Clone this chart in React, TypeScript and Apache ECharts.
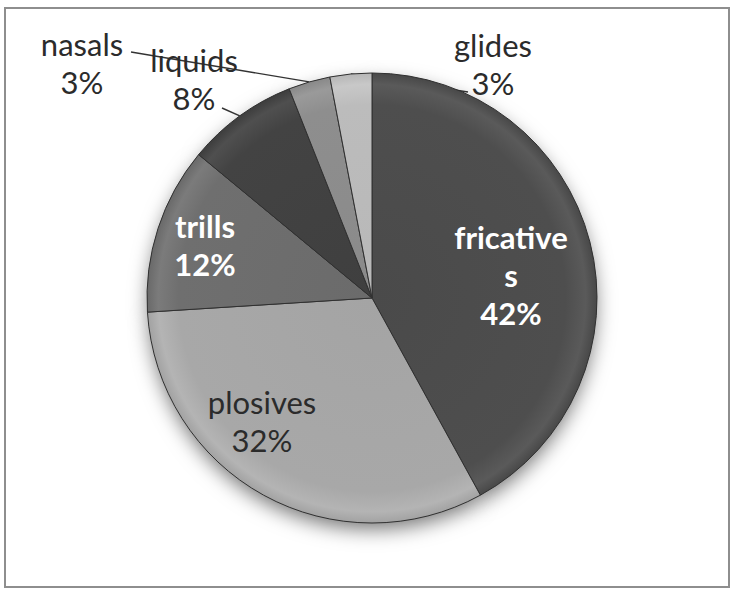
import React, { useEffect, useRef } from "react";
import * as echarts from "echarts";

// Share of consonant classes (percent)
const categories = ["fricatives", "plosives", "trills", "liquids", "nasals", "glides"];
const shares = [42, 32, 12, 8, 3, 3];
const sliceColors = ["#4e4e4e", "#a8a8a8", "#6f6f6f", "#434343", "#8e8e8e", "#bcbcbc"];

// Label appearance per class
const insideWhite = ["fricatives", "trills"];
const insideDark = ["plosives"];
const wrappedNames: Record<string, string> = { fricatives: "fricative\ns" };

// Where each label sits on the page (centre of the text block)
const labelSpots: Record<string, [number, number]> = {
  fricatives: [511, 275],
  plosives: [262, 421],
  trills: [205, 245],
  liquids: [194, 79],
  nasals: [82, 63],
  glides: [493, 64],
};
// Where the leader line of an outside label meets its text
const leaderEnds: Record<string, [number, number]> = {
  liquids: [222, 108],
  nasals: [131, 52],
  glides: [468, 92],
};

const CENTER: [number, number] = [372, 298];
const RADIUS = 225;
const FONT = "Lato, 'Open Sans', sans-serif";

function shade(hex: string, amount: number): string {
  const n = parseInt(hex.slice(1), 16);
  const ch = (v: number) => Math.max(0, Math.min(255, Math.round(v + amount)));
  const r = ch((n >> 16) & 255);
  const g = ch((n >> 8) & 255);
  const b = ch(n & 255);
  return `rgb(${r},${g},${b})`;
}

// Slight bevel: a lighter band just inside the rim
function bevel(color: string) {
  return {
    type: "radial",
    x: CENTER[0],
    y: CENTER[1],
    r: RADIUS,
    global: true,
    colorStops: [
      { offset: 0, color: shade(color, -4) },
      { offset: 0.86, color },
      { offset: 0.95, color: shade(color, 12) },
      { offset: 1, color: shade(color, -6) },
    ],
  };
}

export default function App() {
  const ref = useRef<HTMLDivElement>(null);

  useEffect(() => {
    if (!ref.current) return;
    const chart = echarts.init(ref.current, undefined, { renderer: "svg" });

    const data = categories.map((name, i) => {
      const white = insideWhite.includes(name);
      const dark = insideDark.includes(name);
      const inside = white || dark;
      const shown = wrappedNames[name] ?? name;
      return {
        name,
        value: shares[i],
        itemStyle: { color: bevel(sliceColors[i]) },
        label: {
          position: inside ? "inside" : "outside",
          formatter: `${shown}\n{d}%`,
          color: white ? "#ffffff" : "#2b2b2b",
          fontWeight: white ? "bold" : "normal",
        },
        labelLine: { show: !inside },
      };
    });

    chart.setOption({
      animation: false,
      backgroundColor: "#ffffff",
      graphic: [
        {
          type: "rect",
          shape: { x: 5, y: 8, width: 724, height: 579 },
          style: { fill: "none", stroke: "#8e8e8e", lineWidth: 2 },
          silent: true,
        },
      ],
      series: [
        {
          // soft shadow beneath the pie
          type: "pie",
          silent: true,
          center: CENTER,
          radius: [0, RADIUS - 2],
          startAngle: 90,
          data: categories.map((name, i) => ({ name, value: shares[i] })),
          itemStyle: {
            color: "#666666",
            shadowBlur: 20,
            shadowColor: "rgba(0,0,0,0.55)",
            shadowOffsetY: 8,
          },
          label: { show: false },
          labelLine: { show: false },
          z: 1,
        },
        {
          type: "pie",
          center: CENTER,
          radius: [0, RADIUS],
          startAngle: 90,
          clockwise: true,
          percentPrecision: 0,
          avoidLabelOverlap: false,
          data,
          itemStyle: { borderColor: "#303030", borderWidth: 1 },
          label: {
            fontFamily: FONT,
            fontSize: 31,
            lineHeight: 38,
            align: "center",
          },
          labelLine: {
            lineStyle: { color: "#333333", width: 1.4 },
            length: 20,
            length2: 20,
          },
          labelLayout: (params: any) => {
            const name = categories[params.dataIndex];
            const spot = labelSpots[name];
            const out: any = {
              x: spot[0],
              y: spot[1],
              align: "center",
              verticalAlign: "middle",
            };
            const end = leaderEnds[name];
            const pts = params.labelLinePoints;
            if (end && pts && pts.length) {
              out.labelLinePoints = [pts[0], end];
            }
            return out;
          },
          z: 2,
        },
      ],
    });

    return () => chart.dispose();
  }, []);

  return (
    <div
      ref={ref}
      style={{ position: "absolute", left: 0, top: 0, width: 733, height: 589 }}
    />
  );
}
